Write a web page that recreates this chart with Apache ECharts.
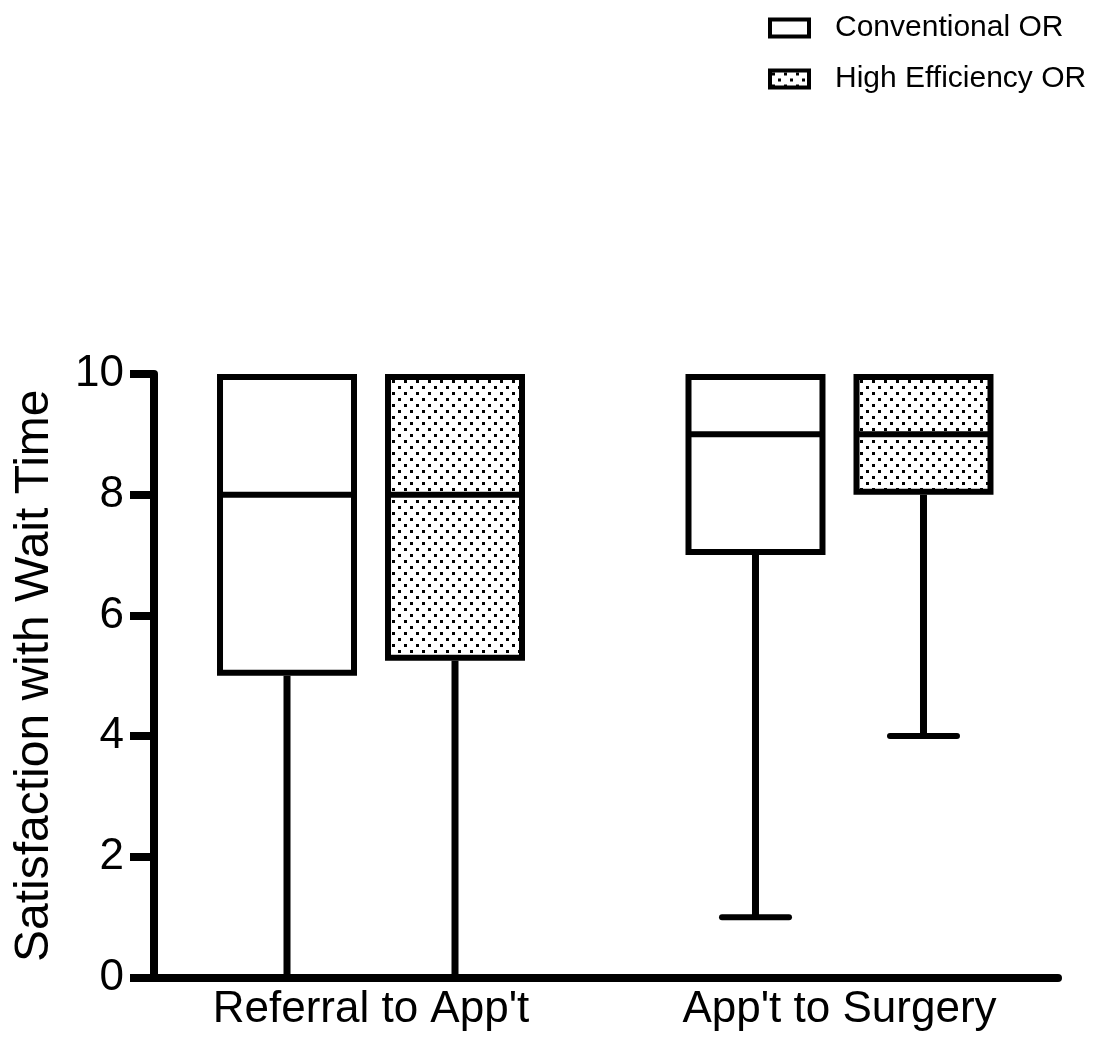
<!DOCTYPE html>
<html>
<head>
<meta charset="utf-8">
<script src="https://cdn.jsdelivr.net/npm/echarts@6/dist/echarts.min.js"></script>
<style>
html,body{margin:0;padding:0;background:#fff;}
#chart{width:1094px;height:1038px;}
</style>
</head>
<body>
<div id="chart"></div>
<script>
// ---- data ----
const categories = ["Referral to App't", "App't to Surgery"];
const seriesNames = ["Conventional OR", "High Efficiency OR"];
// [categoryIndex, min, Q1, median, Q3, max]
const conventional = [
  [0, 0, 5, 8, 10, 10],
  [1, 1, 7, 9, 10, 10]
];
const highEfficiency = [
  [0, 0, 5.25, 8, 10, 10],
  [1, 4, 8, 9, 10, 10]
];
const yTicks = [0, 2, 4, 6, 8, 10];

// ---- styling / layout ----
const FONT = 'Arial, "Liberation Sans", Helvetica, sans-serif';
const LW = 6;
const xMin = -0.4632, xMax = 1.4664;
const groupOffset = 0.1793;
const boxWidthU = 0.2988;
const capWidthU = 0.143;

function makeDots() {
  const c = document.createElement('canvas');
  c.width = 12; c.height = 12;
  const g = c.getContext('2d');
  g.fillStyle = '#fff';
  g.fillRect(0, 0, 12, 12);
  g.fillStyle = '#000';
  g.fillRect(2, 2, 3, 3);
  g.fillRect(8, 8, 3, 3);
  return c;
}
const dotPattern = { image: makeDots(), repeat: 'repeat' };

function makeRender(offset, fill) {
  return function (params, api) {
    const xc = api.value(0) + offset;
    const vMin = api.value(1), q1 = api.value(2), med = api.value(3), q3 = api.value(4), vMax = api.value(5);
    const pMin = api.coord([xc, vMin]);
    const pQ1 = api.coord([xc, q1]);
    const pMed = api.coord([xc, med]);
    const pQ3 = api.coord([xc, q3]);
    const pMax = api.coord([xc, vMax]);
    const halfW = api.size([boxWidthU, 0])[0] / 2;
    const halfCap = api.size([capWidthU, 0])[0] / 2;
    const x = pQ1[0];
    const lineStyle = { stroke: '#000', lineWidth: LW, lineCap: 'round' };
    const children = [];
    if (vMin < q1) {
      children.push({ type: 'line', shape: { x1: x, y1: pQ1[1], x2: x, y2: pMin[1] }, style: { stroke: '#000', lineWidth: LW + 1 } });
      children.push({ type: 'line', shape: { x1: x - halfCap, y1: pMin[1], x2: x + halfCap, y2: pMin[1] }, style: lineStyle });
    }
    if (vMax > q3) {
      children.push({ type: 'line', shape: { x1: x, y1: pQ3[1], x2: x, y2: pMax[1] }, style: { stroke: '#000', lineWidth: LW + 1 } });
      children.push({ type: 'line', shape: { x1: x - halfCap, y1: pMax[1], x2: x + halfCap, y2: pMax[1] }, style: lineStyle });
    }
    const inset = LW / 2;
    children.push({
      type: 'rect',
      shape: { x: x - halfW + inset, y: pQ3[1] + inset, width: 2 * halfW - LW, height: pQ1[1] - pQ3[1] - LW },
      style: { fill: fill, stroke: '#000', lineWidth: LW }
    });
    children.push({ type: 'line', shape: { x1: x - halfW + inset, y1: pMed[1], x2: x + halfW - inset, y2: pMed[1] }, style: { stroke: '#000', lineWidth: LW } });
    return { type: 'group', children: children };
  };
}

const chart = echarts.init(document.getElementById('chart'), null, { renderer: 'canvas' });
chart.setOption({
  animation: false,
  backgroundColor: '#fff',
  legend: {
    orient: 'vertical',
    left: 763,
    top: 8,
    itemWidth: 39,
    itemHeight: 17,
    itemGap: 21,
    textStyle: { fontFamily: FONT, fontSize: 30, color: '#000', padding: [0, 0, 0, 21] },
    data: [
      { name: seriesNames[0], icon: 'rect', itemStyle: { color: '#fff', borderColor: '#000', borderWidth: 4 } },
      { name: seriesNames[1], icon: 'rect', itemStyle: { color: dotPattern, borderColor: '#000', borderWidth: 4 } }
    ]
  },
  grid: { left: 154, right: 36, top: 374, bottom: 60.5 },
  xAxis: {
    type: 'value',
    min: xMin,
    max: xMax,
    splitLine: { show: false },
    axisTick: { show: false },
    axisLine: { show: true, onZero: false, lineStyle: { color: '#000', width: 8 } },
    axisLabel: {
      customValues: [0, 1],
      formatter: function (v) { return categories[Math.round(v)]; },
      fontFamily: FONT, fontSize: 44, color: '#000', margin: 10
    }
  },
  yAxis: {
    type: 'value',
    min: yTicks[0],
    max: yTicks[yTicks.length - 1],
    interval: 2,
    name: 'Satisfaction with Wait Time',
    nameLocation: 'middle',
    nameGap: 95,
    nameTextStyle: { fontFamily: FONT, fontSize: 48, color: '#000' },
    splitLine: { show: false },
    axisLine: { show: true, onZero: false, lineStyle: { color: '#000', width: 8 } },
    axisTick: { show: true, length: 24, lineStyle: { color: '#000', width: 8 } },
    axisLabel: { fontFamily: FONT, fontSize: 44, color: '#000', margin: 30 }
  },
  series: [
    {
      name: seriesNames[0],
      type: 'custom',
      renderItem: makeRender(-groupOffset, '#fff'),
      encode: { x: 0, y: [1, 2, 3, 4, 5] },
      data: conventional,
      z: 1
    },
    {
      name: seriesNames[1],
      type: 'custom',
      renderItem: makeRender(groupOffset, dotPattern),
      encode: { x: 0, y: [1, 2, 3, 4, 5] },
      data: highEfficiency,
      z: 1
    }
  ]
});
</script>
</body>
</html>
